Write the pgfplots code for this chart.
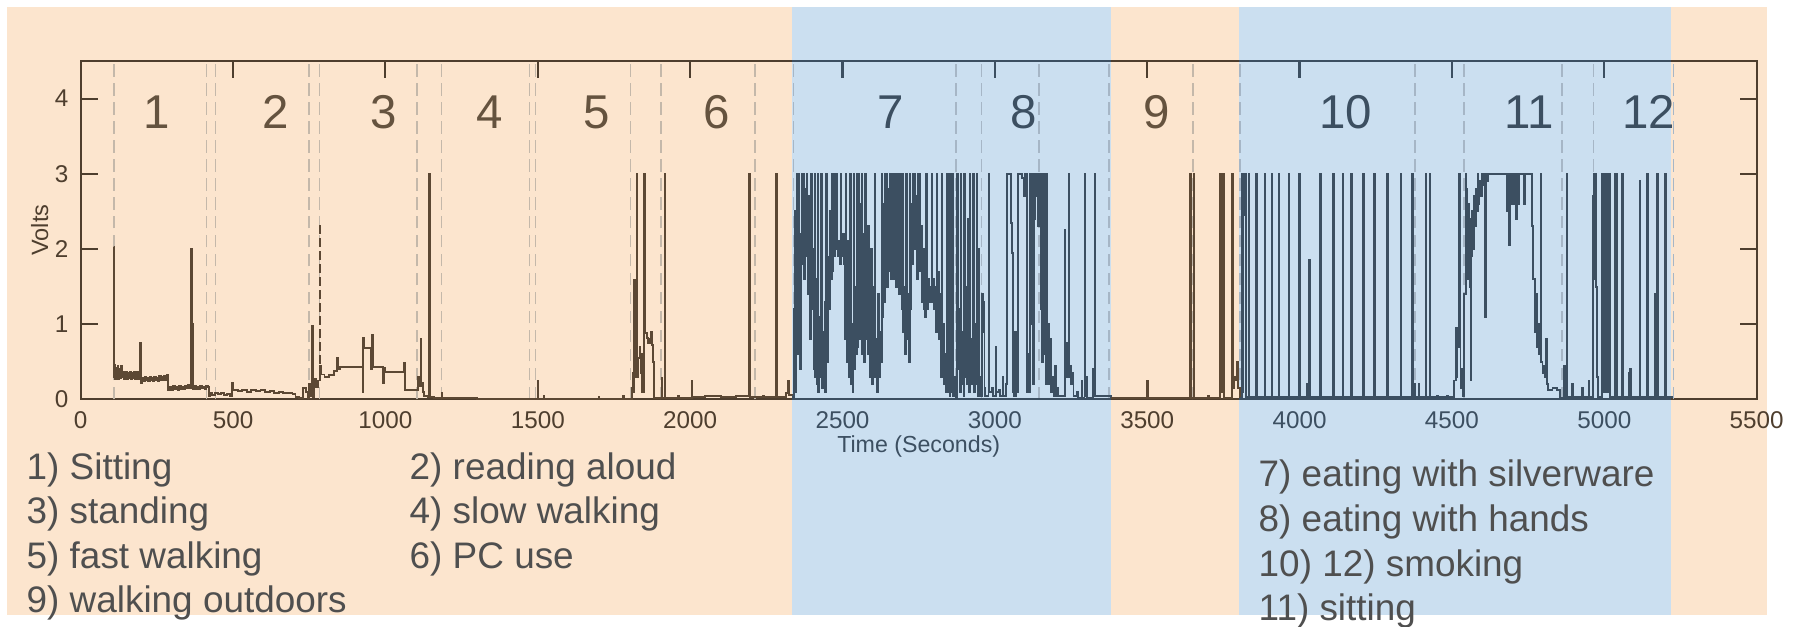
\documentclass[border=0pt]{standalone}
\usepackage{pgfplots}
\pgfplotsset{compat=1.18}
\usepackage{fontspec}
\setmainfont{Liberation Sans}
\definecolor{peach}{HTML}{FCE5CE}
\definecolor{lblue}{HTML}{CBDFF0}
\definecolor{lbrown}{HTML}{5C4834}
\definecolor{slate}{HTML}{3C4F61}
\definecolor{numbrown}{HTML}{65533F}
\definecolor{axbrown}{HTML}{4E3E2E}
\definecolor{legray}{HTML}{4F4F4F}
\definecolor{dashpeach}{HTML}{C4B8AA}
\definecolor{dashblue}{HTML}{A6B6C6}
\begin{document}
\begin{tikzpicture}
\useasboundingbox (0cm,0cm) rectangle (17.98cm,-6.26cm);
\fill[peach] (0.069cm,-0.067cm) rectangle (17.67cm,-6.15cm);
\fill[lblue] (7.916cm,-0.067cm) rectangle (11.106cm,-6.15cm);
\fill[lblue] (12.394cm,-0.067cm) rectangle (16.710cm,-6.15cm);
% legend texts
\begin{scope}[every node/.style={anchor=base west, inner sep=0pt, text=legray, font=\fontsize{10.5}{12}\selectfont}]
\node at (0.26cm,-4.79cm) {1) Sitting};
\node at (0.26cm,-5.235cm) {3) standing};
\node at (0.26cm,-5.68cm) {5) fast walking};
\node at (0.26cm,-6.125cm) {9) walking outdoors};
\node at (4.09cm,-4.79cm) {2) reading aloud};
\node at (4.09cm,-5.235cm) {4) slow walking};
\node at (4.09cm,-5.68cm) {6) PC use};
\node at (12.58cm,-4.865cm) {7) eating with silverware};
\node at (12.58cm,-5.315cm) {8) eating with hands};
\node at (12.58cm,-5.765cm) {10) 12) smoking};
\node at (12.58cm,-6.20cm) {11) sitting};
\end{scope}
\begin{axis}[
  at={(0.807cm,-3.993cm)}, anchor=south west,
  scale only axis, width=16.76cm, height=3.383cm,
  xmin=0, xmax=5500, ymin=0, ymax=4.5,
  xtick={0,500,...,5500},
  xticklabels={0,500,1000,1500,2000,\textcolor{slate}{2500},\textcolor{slate}{3000},3500,\textcolor{slate}{4000},\textcolor{slate}{4500},\textcolor{slate}{5000},5500},
  ytick={0,1,2,3,4},
  xtick pos=right, xticklabel pos=left,
  ytick pos=both, yticklabel pos=left,
  tick align=inside,
  major tick length=0.17cm,
  axis line style={draw=axbrown, line width=0.6pt},
  tick style={draw=axbrown, line width=0.6pt},
  ticklabel style={font=\fontsize{6.9}{8}\selectfont, text=axbrown},
  /pgf/number format/assume math mode=true,
  xlabel={Time (Seconds)},
  xlabel style={font=\fontsize{6.6}{8}\selectfont, text=slate, yshift=4.8pt},
  ylabel={Volts},
  ylabel shift=-5pt,
  ylabel style={font=\fontsize{6.7}{8}\selectfont, text=axbrown},
  clip=false,
]
\pgfplotsinvokeforeach{109,413,442,750,784,1104,1184,1473,1493,1804,1905,2213,3651}{
  \draw[dashpeach, line width=0.45pt, dash pattern=on 3.6pt off 1.8pt] (axis cs:#1,0) -- (axis cs:#1,4.5);
}
\pgfplotsinvokeforeach{2339,2872,2956,3145,3375,3804,4379,4539,4862,4964,5227}{
  \draw[dashblue, line width=0.45pt, dash pattern=on 3.6pt off 1.8pt] (axis cs:#1,0) -- (axis cs:#1,4.5);
}
% segment A (brown)
\addplot[const plot, lbrown, line width=0.55pt] coordinates {
(109,2.02)(110,0.30)(112,0.46)(114,0.27)(116,0.42)(118,0.29)(121,0.44)(123,0.27)(126,0.40)(129,0.28)(132,0.45)(135,0.30)(138,0.36)(141,0.27)(144,0.35)(147,0.28)(150,0.36)(153,0.27)(156,0.35)(159,0.28)(162,0.36)(165,0.27)(168,0.35)(171,0.28)(174,0.36)(177,0.27)(180,0.35)(183,0.28)(186,0.36)(189,0.27)(192,0.35)(195,0.28)(196,0.75)(198,0.22)(202,0.29)(206,0.24)(210,0.30)(214,0.25)(218,0.29)(222,0.24)(226,0.30)(230,0.25)(234,0.29)(238,0.24)(242,0.30)(246,0.25)(250,0.29)(254,0.24)(258,0.31)(262,0.25)(266,0.30)(270,0.26)(274,0.31)(278,0.26)(282,0.32)(286,0.27)(288,0.13)(293,0.17)(298,0.13)(303,0.18)(308,0.14)(313,0.17)(318,0.13)(323,0.18)(328,0.14)(333,0.17)(338,0.14)(343,0.18)(348,0.15)(353,0.19)(358,0.15)(362,0.20)(363,2.0)(365,1.0)(367,0.14)(372,0.18)(377,0.14)(382,0.17)(387,0.14)(392,0.18)(397,0.15)(402,0.17)(407,0.14)(412,0.18)(418,0.16)(421,0.05)(425,0.09)(430,0.06)(440,0.09)(450,0.07)(460,0.08)(470,0.06)(480,0.07)(490,0.05)(498,0.22)(500,0.12)(515,0.11)(530,0.13)(545,0.10)(560,0.12)(575,0.11)(590,0.12)(605,0.10)(620,0.11)(635,0.09)(650,0.10)(665,0.08)(680,0.09)(695,0.07)(705,0.03)(715,0.02)(728,0.15)(740,0.10)(745,0.02)(750,0.20)(754,0.05)(760,0.97)(762,0.03)(766,0.27)(772,0.16)(778,0.25)(784,0.45)(788,0.33)(800,0.30)(815,0.32)(830,0.38)(840,0.55)(843,0.40)(850,0.43)(925,0.10)(927,0.82)(929,0.68)(952,0.40)(955,0.85)(958,0.43)(993,0.22)(996,0.42)(1000,0.36)(1060,0.48)(1063,0.12)(1108,0.30)(1112,0.18)(1116,0.80)(1118,0.22)(1122,0.10)(1128,0.04)(1140,0.03)(1144,3.0)(1146,0.03)(1160,0.02)(1185,0.08)(1187,0.02)(1300,0.01)(1499,0.24)(1501,0.01)(1520,0.05)(1522,0.01)(1700,0.03)(1702,0.01)(1780,0.04)(1782,0.01)(1810,0.15)(1812,0.35)(1815,0.1)(1817,1.59)(1819,0.3)(1825,3.0)(1827,0.3)(1830,0.55)(1834,0.7)(1837,0.35)(1840,0.6)(1843,0.1)(1849,3.0)(1851,0.88)(1858,0.82)(1863,0.75)(1868,0.8)(1873,0.9)(1875,0.72)(1879,0.5)(1882,0.02)(1906,0.28)(1908,0.02)(1917,3.0)(1919,0.02)(1960,0.04)(1962,0.02)(2005,0.25)(2007,0.03)(2050,0.04)(2100,0.03)(2150,0.04)(2194,3.0)(2196,0.03)(2240,0.05)(2242,0.03)(2282,3.0)(2284,0.03)(2315,0.08)(2322,0.25)(2324,0.06)(2334,0.05)
};
\addplot[lbrown, line width=0.6pt, dash pattern=on 2.5pt off 1.2pt] coordinates {(784,0.3)(784,2.35)};
% segment B (slate) regions 7-8
\addplot[const plot, slate, line width=0.55pt] coordinates {
(2334,0.05)(2339,0.03)(2342,1.2)(2344,2.5)(2346,0.1)(2349,3.0)(2351,0.6)(2354,3.0)(2356,1.5)(2359,2.2)(2361,0.4)(2364,1.8)(2367,3.0)(2369,2.4)(2372,3.0)(2374,1.6)(2377,2.8)(2380,1.9)(2383,3.0)(2385,2.5)(2388,1.4)(2391,2.7)(2393,0.8)(2396,3.0)(2399,1.2)(2402,2.0)(2405,0.4)(2408,3.0)(2410,0.3)(2413,1.6)(2416,0.2)(2419,3.0)(2421,0.1)(2424,1.1)(2427,0.3)(2430,3.0)(2432,0.15)(2435,0.9)(2438,0.2)(2441,1.3)(2444,0.1)(2447,3.0)(2449,0.5)(2452,1.9)(2455,1.2)(2458,2.5)(2461,1.6)(2464,3.0)(2466,1.7)(2469,2.4)(2472,3.0)(2474,1.9)(2477,2.3)(2480,3.0)(2482,2.0)(2485,1.9)(2488,2.1)(2491,1.8)(2494,3.0)(2496,2.0)(2499,1.9)(2502,2.2)(2505,1.8)(2508,0.8)(2511,3.0)(2513,1.7)(2516,0.5)(2519,2.1)(2522,0.3)(2525,3.0)(2527,0.2)(2530,1.0)(2533,0.1)(2536,3.0)(2538,0.4)(2541,1.5)(2544,0.6)(2547,3.0)(2549,0.7)(2552,3.0)(2554,0.8)(2557,2.6)(2560,0.9)(2563,3.0)(2565,0.6)(2568,2.2)(2571,0.5)(2574,3.0)(2576,0.8)(2579,1.9)(2582,0.6)(2585,2.3)(2588,0.9)(2591,0.3)(2594,2.0)(2597,0.2)(2600,1.5)(2603,0.6)(2606,3.0)(2608,0.3)(2611,0.8)(2614,0.1)(2617,1.4)(2620,0.3)(2623,0.9)(2626,0.5)(2629,3.0)(2631,1.1)(2634,2.6)(2637,1.3)(2640,3.0)(2642,2.2)(2645,3.0)(2647,1.5)(2650,2.8)(2653,1.7)(2656,3.0)(2658,1.6)(2661,2.4)(2664,1.7)(2667,3.0)(2669,1.6)(2672,1.8)(2675,3.0)(2677,1.5)(2680,1.8)(2683,3.0)(2685,1.4)(2688,3.0)(2690,1.7)(2693,3.0)(2695,1.2)(2698,3.0)(2700,0.9)(2703,1.5)(2706,0.6)(2709,3.0)(2711,0.8)(2714,1.4)(2717,0.5)(2720,3.0)(2722,1.2)(2725,2.6)(2728,1.8)(2731,3.0)(2733,2.3)(2736,3.0)(2738,2.0)(2741,2.7)(2744,1.6)(2747,3.0)(2749,2.2)(2752,3.0)(2754,1.7)(2757,2.3)(2760,1.3)(2763,2.0)(2766,1.2)(2769,1.9)(2772,1.1)(2775,3.0)(2777,1.2)(2780,1.6)(2783,1.3)(2786,1.5)(2789,1.4)(2792,3.0)(2794,1.3)(2797,1.6)(2800,1.2)(2803,1.5)(2806,0.9)(2809,3.0)(2811,1.2)(2814,1.7)(2817,0.8)(2820,1.4)(2823,0.3)(2826,3.0)(2828,0.5)(2831,1.0)(2834,0.2)(2837,0.6)(2840,0.1)(2843,3.0)(2845,0.1)(2848,0.5)(2851,0.05)(2854,3.0)(2856,0.1)(2860,3.0)(2862,0.05)(2866,0.3)(2869,0.05)(2872,0.02)(2876,3.0)(2878,0.4)(2882,1.2)(2885,0.1)(2888,3.0)(2890,0.2)(2894,0.9)(2897,0.05)(2900,3.0)(2902,0.3)(2906,1.5)(2909,0.2)(2912,2.4)(2915,0.1)(2918,3.0)(2920,0.8)(2924,0.2)(2928,3.0)(2930,0.1)(2934,1.0)(2937,0.2)(2941,3.0)(2943,0.05)(2946,2.0)(2948,0.05)(2952,0.3)(2955,0.05)(2957,1.4)(2960,0.9)(2963,1.3)(2966,0.15)(2969,0.05)(2979,3.0)(2981,0.1)(2990,0.15)(2993,0.05)(3003,0.7)(3005,0.1)(3015,0.12)(3018,0.05)(3025,0.3)(3028,0.05)(3036,0.2)(3039,3.0)(3053,2.35)(3056,1.95)(3058,0.1)(3062,0.9)(3064,0.05)(3068,0.9)(3070,0.1)(3077,3.0)(3090,2.95)(3097,2.7)(3100,3.0)(3105,0.1)(3109,0.6)(3111,0.1)(3116,3.0)(3119,1.0)(3121,3.0)(3124,0.2)(3127,3.0)(3130,2.4)(3133,3.0)(3136,2.7)(3139,3.0)(3142,2.3)(3145,3.0)(3148,2.5)(3151,1.2)(3153,3.0)(3156,0.5)(3159,1.3)(3162,3.0)(3164,0.6)(3167,0.2)(3170,3.0)(3172,0.4)(3175,1.0)(3178,0.2)(3182,0.8)(3185,0.1)(3190,0.3)(3193,0.05)(3198,0.44)(3200,0.05)(3205,0.15)(3208,0.05)(3229,2.25)(3231,0.5)(3235,0.75)(3238,0.3)(3242,3.0)(3244,0.3)(3248,0.45)(3251,0.2)(3255,0.35)(3258,0.05)(3270,0.1)(3272,0.02)(3285,0.25)(3287,0.02)(3294,3.0)(3296,0.05)(3300,0.3)(3302,0.02)(3323,0.4)(3325,0.05)(3327,3.0)(3329,0.05)(3340,0.05)(3381,0.02)
};
% segment C (brown) region 9
\addplot[const plot, lbrown, line width=0.55pt] coordinates {
(3381,0.02)(3500,0.24)(3502,0.02)(3641,3.0)(3643,0.02)(3653,3.0)(3655,0.02)(3700,0.04)(3702,0.02)(3738,3.0)(3741,0.1)(3744,3.0)(3747,0.1)(3749,3.0)(3751,0.02)(3779,3.0)(3781,0.15)(3785,0.3)(3790,0.25)(3795,0.5)(3798,0.15)(3804,0.02)
};
% segment D (slate) regions 10-12
\addplot[const plot, slate, line width=0.55pt] coordinates {
(3804,0.02)(3811,3.0)(3813,0.1)(3815,3.0)(3817,2.45)(3822,3.0)(3824,0.03)(3833,3.0)(3835,0.03)(3856,3.0)(3859,0.03)(3885,3.0)(3887,0.03)(3909,3.0)(3911,0.03)(3931,3.0)(3934,0.03)(3964,3.0)(3966,0.03)(3998,3.0)(4001,0.2)(4003,0.03)(4024,0.2)(4026,0.03)(4032,1.85)(4034,0.03)(4067,3.0)(4070,0.03)(4110,3.0)(4112,0.03)(4141,3.0)(4144,0.03)(4169,3.0)(4171,0.03)(4207,3.0)(4210,0.03)(4244,3.0)(4246,0.03)(4288,3.0)(4290,0.03)(4331,3.0)(4333,0.03)(4370,3.0)(4372,0.03)(4378,0.2)(4380,0.03)(4391,0.2)(4393,0.03)(4414,3.0)(4416,0.03)(4427,3.0)(4429,0.03)(4452,0.05)(4454,0.03)(4484,0.05)(4486,0.03)(4506,0.25)(4512,0.95)(4515,0.3)(4518,0.7)(4523,3.0)(4525,1.35)(4528,0.15)(4532,0.4)(4535,0.05)(4539,1.4)(4545,3.0)(4547,2.3)(4549,2.8)(4551,1.6)(4553,2.6)(4555,1.8)(4557,2.4)(4559,1.5)(4561,0.25)(4563,2.2)(4565,1.9)(4567,2.5)(4569,2.0)(4572,2.7)(4575,2.3)(4578,2.8)(4581,2.5)(4584,3.0)(4587,2.6)(4590,2.9)(4594,2.7)(4598,3.0)(4602,2.85)(4606,3.0)(4609,1.1)(4612,3.0)(4614,2.9)(4618,3.0)(4681,2.5)(4684,3.0)(4687,2.05)(4690,3.0)(4693,2.6)(4697,3.0)(4702,2.6)(4706,3.0)(4709,2.4)(4712,3.0)(4716,2.6)(4720,3.0)(4736,2.6)(4739,3.0)(4758,3.0)(4763,2.3)(4767,1.6)(4772,0.9)(4776,1.4)(4779,0.7)(4783,1.0)(4786,0.6)(4791,3.0)(4793,0.5)(4797,0.35)(4801,0.45)(4805,0.3)(4810,0.8)(4812,0.2)(4815,0.13)(4830,0.15)(4845,0.12)(4856,0.02)(4869,0.45)(4872,0.03)(4876,3.0)(4878,0.03)(4895,0.2)(4897,0.03)(4927,0.15)(4929,0.03)(4948,0.25)(4950,0.03)(4964,2.7)(4966,3.0)(4968,1.6)(4971,3.0)(4973,1.5)(4976,0.3)(4979,0.03)(4993,3.0)(4995,0.1)(4997,3.0)(4999,0.2)(5001,3.0)(5003,0.1)(5005,3.0)(5007,0.2)(5009,3.0)(5011,0.1)(5013,3.0)(5015,0.3)(5017,3.0)(5020,0.03)(5036,3.0)(5038,0.03)(5041,3.0)(5043,0.03)(5058,3.0)(5060,0.03)(5080,0.35)(5083,0.4)(5086,0.03)(5116,2.9)(5118,0.03)(5141,3.0)(5143,0.03)(5167,1.4)(5170,0.03)(5173,3.0)(5175,0.03)(5200,3.0)(5202,0.03)(5221,0.02)
};
% activity numbers
\begin{scope}[every node/.style={font=\fontsize{13.5}{16}\selectfont}]
\node[text=numbrown] at (axis cs:250,3.82) {1};
\node[text=numbrown] at (axis cs:640,3.82) {2};
\node[text=numbrown] at (axis cs:995,3.82) {3};
\node[text=numbrown] at (axis cs:1343,3.82) {4};
\node[text=numbrown] at (axis cs:1694,3.82) {5};
\node[text=numbrown] at (axis cs:2088,3.82) {6};
\node[text=slate] at (axis cs:2657,3.82) {7};
\node[text=slate] at (axis cs:3095,3.82) {8};
\node[text=numbrown] at (axis cs:3531,3.82) {9};
\node[text=slate] at (axis cs:4152,3.82) {10};
\node[text=slate] at (axis cs:4754,3.82) {11};
\node[text=slate] at (axis cs:5146,3.82) {12};
\end{scope}
\end{axis}
% slate overlay of the frame in the blue zones
\begin{scope}[slate, line width=0.6pt]
\draw (7.916cm,-0.61cm) -- (11.106cm,-0.61cm);
\draw (7.916cm,-3.993cm) -- (11.106cm,-3.993cm);
\draw (12.394cm,-0.61cm) -- (16.710cm,-0.61cm);
\draw (12.394cm,-3.993cm) -- (16.710cm,-3.993cm);
\foreach \xx in {8.425,9.948,12.995,14.519,16.042}{
  \draw (\xx cm,-0.61cm) -- ++(0cm,-0.17cm);
}
\end{scope}
\end{tikzpicture}
\end{document}
